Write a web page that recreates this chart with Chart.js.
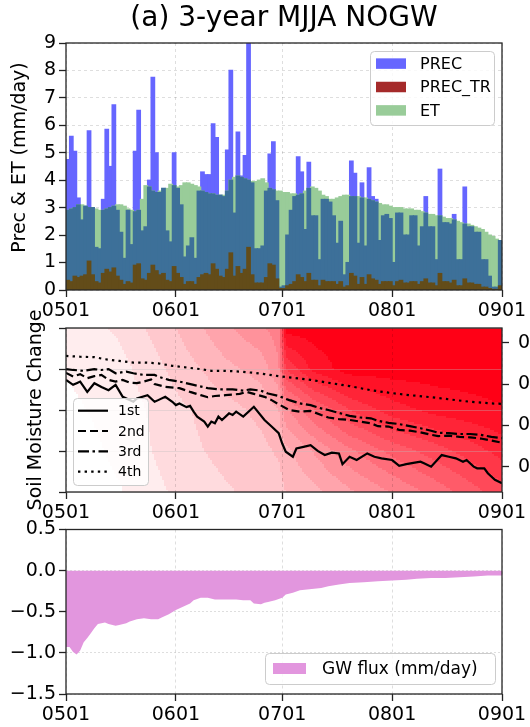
<!DOCTYPE html>
<html><head><meta charset="utf-8">
<script src="https://cdn.jsdelivr.net/npm/chart.js@4.4.0/dist/chart.umd.min.js"></script>
<style>
html,body{margin:0;padding:0;background:#fff;width:530px;height:727px;overflow:hidden;}
canvas{position:absolute;left:0;}
#c1{top:0}#c2{top:295px}#c3{top:515px}
</style></head><body>
<canvas id="c1" width="530" height="330"></canvas>
<canvas id="c2" width="530" height="225"></canvas>
<canvas id="c3" width="530" height="212"></canvas>
<script>
// ---------- data ----------
const dayTicks = [0, 31, 61, 92, 123];
const dayTickLabels = ['0501', '0601', '0701', '0801', '0901'];

const precVals = [
  4.75, 5.6, 5.05, 3.35, 2.55, 3.05, 5.8, 3.0, 1.55, 1.5,
  3.3, 5.85, 4.5, 6.75, 2.9, 2.1, 1.15, 2.9, 1.65, 5.05,
  6.55, 2.15, 2.3, 4.0, 7.75, 5.0, 3.55, 3.7, 2.15, 1.75,
  5.0, 3.7, 3.1, 1.2, 1.6, 1.9, 1.15, 3.6, 4.3, 4.2,
  4.2, 6.05, 5.55, 3.45, 3.4, 5.1, 8.0, 2.8, 5.75, 4.15,
  4.9, 9.0, 3.9, 1.5, 1.5, 1.6, 3.6, 4.95, 5.4, 3.25,
  0.1, 0.15, 2.0, 2.9, 3.4, 4.85, 4.3, 2.2, 4.65, 2.7,
  2.7, 1.1, 3.3, 3.3, 3.2, 2.7, 1.7, 2.5, 0.55, 1.0,
  4.7, 4.25, 1.7, 3.9, 1.6, 4.45, 3.4, 3.3, 1.8, 2.7,
  2.75, 2.6, 1.0, 2.8, 2.8, 2.0, 2.0, 2.7, 2.7, 1.6,
  2.3, 3.4, 2.3, 2.3, 1.1, 4.4, 2.45, 2.45, 2.4, 2.75,
  1.1, 1.1, 3.75, 2.3, 2.3, 2.1, 2.1, 1.1, 1.1, 0.5,
  0.1, 0.1, 1.8
];
const precTrVals = [
  0.35, 0.3, 0.5, 0.45, 0.5, 0.55, 1.05, 0.55, 0.3, 0.25,
  0.6, 0.75, 0.65, 0.8, 0.5, 0.35, 0.2, 0.3, 0.25, 0.9,
  0.95, 0.4, 0.35, 0.6, 0.9, 0.7, 0.55, 0.6, 0.35, 0.3,
  0.85, 0.6, 0.45, 0.2, 0.3, 0.3, 0.2, 0.45, 0.55, 0.6,
  0.55, 0.95, 0.75, 0.5, 0.45, 0.75, 1.35, 0.5, 0.85, 0.6,
  0.75, 1.55, 0.55, 0.25, 0.25, 0.25, 0.45, 0.95, 0.9, 0.4,
  0.05, 0.05, 0.15, 0.2, 0.3, 0.55, 0.45, 0.3, 0.6, 0.35,
  0.35, 0.15, 0.35, 0.3, 0.3, 0.3, 0.2, 0.3, 0.1, 0.15,
  0.6, 0.5, 0.2, 0.45, 0.2, 0.55, 0.4, 0.35, 0.2, 0.3,
  0.3, 0.3, 0.15, 0.3, 0.35, 0.25, 0.25, 0.3, 0.3, 0.2,
  0.3, 0.4, 0.25, 0.25, 0.15, 0.6, 0.3, 0.3, 0.25, 0.35,
  0.15, 0.15, 0.4, 0.25, 0.25, 0.2, 0.2, 0.1, 0.1, 0.05,
  0.02, 0.02, 0.15
];
const etVals = [
  2.9, 2.95, 3.0, 3.1, 3.1, 3.05, 3.0, 3.0, 2.95, 2.9,
  2.9, 2.95, 3.0, 3.05, 3.1, 3.1, 3.05, 2.95, 2.9, 2.85,
  2.9, 3.3, 3.8, 3.75, 3.6, 3.55, 3.6, 3.7, 3.7, 3.85,
  3.8, 3.75, 3.8, 3.9, 3.9, 3.85, 3.8, 3.75, 3.6, 3.55,
  3.5, 3.5, 3.45, 3.45, 3.45, 3.6, 4.0, 4.1, 4.15, 4.1,
  4.05, 4.0, 3.95, 3.95, 4.0, 4.05, 3.9, 3.7, 3.65, 3.6,
  3.6, 3.55, 3.55, 3.5, 3.5, 3.45, 3.5, 3.6, 3.7, 3.75,
  3.7, 3.6, 3.45, 3.4, 3.3, 3.3, 3.35, 3.4, 3.45, 3.45,
  3.4, 3.4, 3.4, 3.35, 3.35, 3.3, 3.25, 3.2, 3.15, 3.1,
  3.1, 3.05, 3.0, 3.0, 3.0, 2.95, 2.95, 2.95, 2.9, 2.9,
  2.85, 2.8, 2.75, 2.75, 2.7, 2.7, 2.65, 2.6, 2.6, 2.55,
  2.5, 2.45, 2.4, 2.4, 2.35, 2.3, 2.25, 2.2, 2.1, 2.0,
  1.95, 1.85, 1.8
];
const precYTicks = [0, 1, 2, 3, 4, 5, 6, 7, 8, 9];

// soil moisture change lines (right axis)
const sm1Days = [0,2,3,4,6,8,10,12,14,16,19,20,23,25,26,28,30,31,32,34,35,36,37,39,40,41,42,43,44,46,47,48,50,53,56,58,60,61,62,64,65,67,69,71,73,75,77,78,80,82,85,87,89,92,94,96,98,100,101,103,106,108,110,112,113,115,116,118,119,121,123];
const sm1Vals = [0.310,0.298,0.302,0.306,0.281,0.302,0.293,0.285,0.298,0.269,0.257,0.265,0.273,0.257,0.261,0.269,0.257,0.249,0.253,0.244,0.247,0.233,0.221,0.209,0.197,0.209,0.205,0.221,0.213,0.229,0.225,0.233,0.221,0.245,0.213,0.197,0.181,0.156,0.136,0.124,0.144,0.148,0.152,0.138,0.128,0.134,0.132,0.106,0.124,0.116,0.132,0.124,0.120,0.116,0.102,0.106,0.109,0.112,0.108,0.100,0.128,0.124,0.120,0.112,0.116,0.100,0.096,0.096,0.084,0.068,0.060];
const sm2Days = [0,2,4,6,8,10,12,14,16,18,20,22,24,25,28,32,35,38,40,42,45,49,51,53,56,58,60,63,66,69,72,74,77,80,83,86,88,91,94,97,100,103,105,108,111,114,117,120,123];
const sm2Vals = [0.327,0.318,0.324,0.314,0.319,0.322,0.310,0.306,0.310,0.303,0.302,0.306,0.311,0.300,0.293,0.290,0.281,0.273,0.268,0.271,0.273,0.276,0.281,0.276,0.269,0.261,0.251,0.237,0.233,0.235,0.225,0.219,0.215,0.213,0.209,0.205,0.198,0.197,0.189,0.187,0.183,0.177,0.174,0.175,0.172,0.171,0.168,0.163,0.158];
const sm3Days = [0,2,5,8,10,12,14,17,19,22,25,26,29,32,36,40,43,47,50,52,55,57,60,63,66,69,72,74,77,80,83,86,88,91,94,97,100,103,105,108,111,114,117,120,123];
const sm3Vals = [0.336,0.334,0.332,0.336,0.334,0.336,0.326,0.330,0.326,0.322,0.322,0.318,0.310,0.306,0.298,0.290,0.287,0.287,0.284,0.287,0.284,0.277,0.271,0.261,0.253,0.249,0.241,0.237,0.230,0.223,0.219,0.217,0.211,0.206,0.203,0.198,0.193,0.187,0.182,0.181,0.179,0.179,0.177,0.172,0.169];
const sm4Days = [0,4,8,11,15,19,22,26,30,34,38,41,45,49,53,56,60,63,69,74,80,86,91,97,103,108,114,120,123];
const sm4Vals = [0.368,0.366,0.365,0.360,0.356,0.352,0.352,0.350,0.344,0.340,0.336,0.332,0.332,0.330,0.327,0.324,0.319,0.316,0.310,0.303,0.295,0.285,0.279,0.273,0.268,0.263,0.257,0.253,0.252];
const smLabels = ['1st', '2nd', '3rd', '4th'];
const smRightTicks = [0.1, 0.2, 0.3, 0.4];
const smLeftTicks = [0, 1, 2, 3, 4];

// background contour field (intensity 0..1), rows = left-axis levels top->bottom
const smBgDays = [0, 15, 31, 45, 55, 60, 62, 70, 80, 92, 105, 123];
const smBgLevels = [4, 3, 2, 1, 0];
const smBgIntensity = [
  [0.06, 0.12, 0.25, 0.38, 0.45, 0.50, 1.00, 1.00, 1.00, 1.00, 1.00, 1.00],
  [0.04, 0.08, 0.20, 0.30, 0.35, 0.45, 0.75, 0.92, 1.00, 1.00, 1.00, 1.00],
  [0.02, 0.06, 0.16, 0.22, 0.27, 0.32, 0.45, 0.60, 0.75, 0.86, 0.92, 0.96],
  [0.00, 0.05, 0.15, 0.20, 0.23, 0.26, 0.30, 0.40, 0.52, 0.63, 0.72, 0.85],
  [0.00, 0.03, 0.12, 0.17, 0.20, 0.22, 0.25, 0.30, 0.38, 0.47, 0.57, 0.72]
];

// groundwater flux
const gwDays = [0,1,2,3,4,5,6,7,8,9,11,12,14,15,17,18,20,22,24,26,27,29,31,33,35,36,38,40,42,44,46,48,50,52,53,55,56,57,59,61,62,64,66,68,70,72,74,77,80,84,88,92,96,99,103,107,111,115,119,123];
const gwVals = [-0.93,-0.93,-0.99,-1.02,-0.97,-0.87,-0.82,-0.76,-0.70,-0.65,-0.63,-0.65,-0.67,-0.66,-0.64,-0.62,-0.59,-0.58,-0.59,-0.59,-0.57,-0.53,-0.48,-0.44,-0.40,-0.36,-0.33,-0.33,-0.35,-0.35,-0.35,-0.35,-0.36,-0.36,-0.40,-0.41,-0.39,-0.38,-0.36,-0.33,-0.29,-0.27,-0.24,-0.23,-0.22,-0.21,-0.19,-0.17,-0.15,-0.14,-0.13,-0.12,-0.11,-0.10,-0.09,-0.09,-0.08,-0.07,-0.06,-0.06];
const gwYTicks = [-1.5, -1.0, -0.5, 0.0, 0.5];

// ---------- helpers ----------
const FAM = '"DejaVu Sans", "Liberation Sans", sans-serif';
const tickFont = {family: FAM, size: 19};
const minus = s => s.replace('-', '\u2212');

function xAxis(h) {
  return {
    type: 'linear', min: 0, max: 123, offset: false,
    grid: {offset: false, color: 'rgba(0,0,0,0.13)', lineWidth: 1, tickColor: '#222', tickLength: 7, tickWidth: 1.3},
    border: {display: false, dash: [3, 3]},
    afterBuildTicks: s => { s.ticks = dayTicks.map(v => ({value: v})); },
    ticks: {
      callback: v => { const k = dayTicks.indexOf(v); return k >= 0 ? dayTickLabels[k] : ''; },
      font: tickFont, color: '#000', maxRotation: 0, autoSkip: false, padding: 3
    },
    afterFit: s => { s.height = h; }
  };
}

const frame = {
  id: 'frame',
  afterDatasetsDraw(chart) {
    const {ctx, chartArea: ca} = chart;
    ctx.save();
    ctx.strokeStyle = '#262626'; ctx.lineWidth = 1.3;
    ctx.strokeRect(ca.left, ca.top, ca.right - ca.left, ca.bottom - ca.top);
    ctx.restore();
  }
};

function roundRect(ctx, x, y, w, h, r) {
  ctx.beginPath();
  ctx.moveTo(x + r, y); ctx.lineTo(x + w - r, y); ctx.quadraticCurveTo(x + w, y, x + w, y + r);
  ctx.lineTo(x + w, y + h - r); ctx.quadraticCurveTo(x + w, y + h, x + w - r, y + h);
  ctx.lineTo(x + r, y + h); ctx.quadraticCurveTo(x, y + h, x, y + h - r);
  ctx.lineTo(x, y + r); ctx.quadraticCurveTo(x, y, x + r, y); ctx.closePath();
}

const mplLegend = {
  id: 'mplLegend',
  afterDraw(chart, args, o) {
    if (!o || !o.w) return;
    const {ctx, chartArea: ca} = chart;
    const x0 = o.anchorX === 'right' ? ca.right - o.dx - o.w : ca.left + o.dx;
    const y0 = o.anchorY === 'bottom' ? ca.bottom - o.dy - o.h : ca.top + o.dy;
    ctx.save();
    roundRect(ctx, x0 + 0.5, y0 + 0.5, o.w, o.h, 4);
    ctx.fillStyle = 'rgba(255,255,255,0.8)'; ctx.fill();
    ctx.strokeStyle = '#cccccc'; ctx.lineWidth = 1; ctx.stroke();
    ctx.font = o.fontSize + 'px ' + FAM; ctx.textBaseline = 'middle'; ctx.textAlign = 'left';
    let row = 0;
    chart.data.datasets.forEach((ds) => {
      if (ds.legendSkip) return;
      const cy = y0 + o.first + row * o.rowH;
      row++;
      if (o.kind === 'box') {
        ctx.fillStyle = ds.legendColor || ds.backgroundColor;
        ctx.fillRect(x0 + o.hx, cy - o.hh / 2, o.hl, o.hh);
      } else {
        ctx.strokeStyle = ds.borderColor; ctx.lineWidth = ds.borderWidth;
        ctx.setLineDash(ds.borderDash || []);
        ctx.beginPath(); ctx.moveTo(x0 + o.hx, cy); ctx.lineTo(x0 + o.hx + o.hl, cy); ctx.stroke();
        ctx.setLineDash([]);
      }
      ctx.fillStyle = '#000';
      ctx.fillText(ds.label, x0 + o.tx, cy + 1);
    });
    ctx.restore();
  }
};

function bgSample(d, lv) {
  let j = 0; while (j < smBgDays.length - 2 && d > smBgDays[j + 1]) j++;
  const fx = Math.min(1, Math.max(0, (d - smBgDays[j]) / (smBgDays[j + 1] - smBgDays[j])));
  let r = 0; while (r < smBgLevels.length - 2 && lv < smBgLevels[r + 1]) r++;
  const fy = Math.min(1, Math.max(0, (smBgLevels[r] - lv) / (smBgLevels[r] - smBgLevels[r + 1])));
  const R = smBgIntensity;
  const a = R[r][j] * (1 - fx) + R[r][j + 1] * fx;
  const b = R[r + 1][j] * (1 - fx) + R[r + 1][j + 1] * fx;
  return a * (1 - fy) + b * fy;
}

const bgHeat = {
  id: 'bgHeat',
  beforeDraw(chart) {
    const {ctx, chartArea: ca, scales} = chart;
    const xs = scales.x, ys = scales.yL;
    const step = 2;
    ctx.save();
    ctx.beginPath(); ctx.rect(ca.left, ca.top, ca.right - ca.left, ca.bottom - ca.top); ctx.clip();
    for (let px = ca.left; px < ca.right; px += step) {
      const d = xs.getValueForPixel(px + step / 2);
      for (let py = ca.top; py < ca.bottom; py += step) {
        const lv = ys.getValueForPixel(py + step / 2);
        let t = bgSample(d, lv);
        t = Math.round(t * 14) / 14;
        const g = Math.round(255 * (1 - t));
        const b = Math.round(255 * (1 - t) + 22 * t);
        ctx.fillStyle = 'rgb(255,' + g + ',' + b + ')';
        ctx.fillRect(px, py, step + 0.6, step + 0.6);
      }
    }
    ctx.restore();
  }
};

const common = {responsive: false, animation: false, devicePixelRatio: 1};

// ---------- panel 1 ----------
// colours are the opaque equivalents of the translucent overlays
// (PREC blue @0.6, ET green @0.4 on top, PREC_TR brown seen through ET)
const toBars = arr => arr.map((v, i) => ({x: i + 0.5, y: v}));
const overlapVals = precVals.map((v, i) => Math.min(v, etVals[i]));
const barBase = {grouped: false, barPercentage: 1, categoryPercentage: 1, borderWidth: 0, inflateAmount: 0.6};
new Chart(document.getElementById('c1'), {
  type: 'bar',
  data: {datasets: [
    Object.assign({label: 'PREC', data: toBars(precVals), backgroundColor: 'rgb(102,102,255)', order: 4}, barBase),
    Object.assign({label: 'PREC_TR', data: toBars(precTrVals), backgroundColor: 'rgb(99,76,25)', legendColor: 'rgb(165,42,42)', order: 1}, barBase),
    Object.assign({label: 'ET', data: toBars(etVals), backgroundColor: 'rgb(153,204,153)', order: 3}, barBase),
    Object.assign({label: 'PREC∩ET', data: toBars(overlapVals), backgroundColor: 'rgb(61,112,153)', order: 2, legendSkip: true}, barBase)
  ]},
  options: Object.assign({}, common, {
    layout: {padding: {left: 0, right: 28, top: 0, bottom: 0}},
    scales: {
      x: xAxis(40),
      y: {
        min: 0, max: 9,
        afterBuildTicks: s => { s.ticks = precYTicks.map(v => ({value: v})); },
        grid: {color: 'rgba(0,0,0,0.13)', tickColor: '#222', tickLength: 7, tickWidth: 1.3},
        border: {display: false, dash: [3, 3]},
        ticks: {font: tickFont, color: '#000', padding: 3, callback: v => String(v)},
        title: {display: true, text: '   Prec & ET (mm/day)', font: tickFont, color: '#000', padding: {top: 9, bottom: 0}},
        afterFit: s => { s.width = 66; }
      }
    },
    plugins: {
      legend: {display: false}, tooltip: {enabled: false},
      title: {display: true, text: '(a) 3-year MJJA NOGW', fullSize: false, color: '#000',
        font: {family: FAM, size: 28, weight: 'normal'}, padding: {top: 2, bottom: 7.4}},
      mplLegend: {kind: 'box', anchorX: 'right', anchorY: 'top', dx: 8, dy: 8, w: 124, h: 74,
        first: 12.6, rowH: 23.4, hx: 6, hl: 30, hh: 10.5, tx: 50, fontSize: 16}
    }
  }),
  plugins: [frame, mplLegend]
});

// ---------- panel 2 ----------
const toPts = (days, vals) => days.map((d, i) => ({x: d, y: vals[i]}));
const lineBase = {borderColor: '#000', borderWidth: 2.2, pointRadius: 0, tension: 0, fill: false, yAxisID: 'yR'};
new Chart(document.getElementById('c2'), {
  type: 'line',
  data: {datasets: [
    Object.assign({label: smLabels[0], data: toPts(sm1Days, sm1Vals), borderDash: []}, lineBase),
    Object.assign({label: smLabels[1], data: toPts(sm2Days, sm2Vals), borderDash: [8, 4]}, lineBase),
    Object.assign({label: smLabels[2], data: toPts(sm3Days, sm3Vals), borderDash: [11, 3.5, 2.5, 3.5]}, lineBase),
    Object.assign({label: smLabels[3], data: toPts(sm4Days, sm4Vals), borderDash: [2.4, 4.2]}, lineBase)
  ]},
  options: Object.assign({}, common, {
    layout: {padding: {left: 0, right: 0, top: 33, bottom: 0}},
    scales: {
      x: xAxis(28),
      yL: {
        position: 'left', min: 0, max: 4,
        afterBuildTicks: s => { s.ticks = smLeftTicks.map(v => ({value: v})); },
        grid: {color: 'rgba(190,190,190,0.35)', tickColor: '#222', tickLength: 7, tickWidth: 1.3},
        border: {display: false},
        ticks: {callback: () => '', font: tickFont},
        title: {display: true, text: 'Soil Moisture Change', font: tickFont, color: '#000', padding: {top: 25, bottom: 0}},
        afterFit: s => { s.width = 66; }
      },
      yR: {
        position: 'right', min: 0.0386, max: 0.4356,
        afterBuildTicks: s => { s.ticks = smRightTicks.map(v => ({value: v})); },
        grid: {drawOnChartArea: false, tickColor: '#222', tickLength: 7, tickWidth: 1.3},
        border: {display: false},
        ticks: {callback: v => v.toFixed(1), font: tickFont, color: '#000', padding: 9},
        afterFit: s => { s.width = 28; }
      }
    },
    plugins: {
      legend: {display: false}, tooltip: {enabled: false},
      mplLegend: {kind: 'line', anchorX: 'left', anchorY: 'bottom', dx: 7, dy: 7, w: 75, h: 87,
        first: 12.7, rowH: 20.3, hx: 5, hl: 30, tx: 45, fontSize: 14}
    }
  }),
  plugins: [bgHeat, frame, mplLegend]
});

// ---------- panel 3 ----------
new Chart(document.getElementById('c3'), {
  type: 'line',
  data: {datasets: [
    {label: 'GW flux (mm/day)', data: toPts(gwDays, gwVals), borderWidth: 0, borderColor: 'rgba(0,0,0,0)',
     backgroundColor: 'rgb(226,150,222)', fill: 'origin', pointRadius: 0, tension: 0}
  ]},
  options: Object.assign({}, common, {
    layout: {padding: {left: 0, right: 28, top: 14.5, bottom: 0}},
    scales: {
      x: xAxis(33),
      y: {
        min: -1.5, max: 0.5,
        afterBuildTicks: s => { s.ticks = gwYTicks.map(v => ({value: v})); },
        grid: {color: 'rgba(0,0,0,0.13)', tickColor: '#222', tickLength: 7, tickWidth: 1.3},
        border: {display: false, dash: [2, 2]},
        ticks: {font: tickFont, color: '#000', padding: 3, callback: v => minus(Number(v).toFixed(1))},
        afterFit: s => { s.width = 66; }
      }
    },
    plugins: {
      legend: {display: false}, tooltip: {enabled: false},
      mplLegend: {kind: 'box', anchorX: 'right', anchorY: 'bottom', dx: 7, dy: 10, w: 230, h: 31,
        first: 15.5, rowH: 20, hx: 8, hl: 33, hh: 11, tx: 57, fontSize: 17}
    }
  }),
  plugins: [frame, mplLegend]
});
</script>
</body></html>
